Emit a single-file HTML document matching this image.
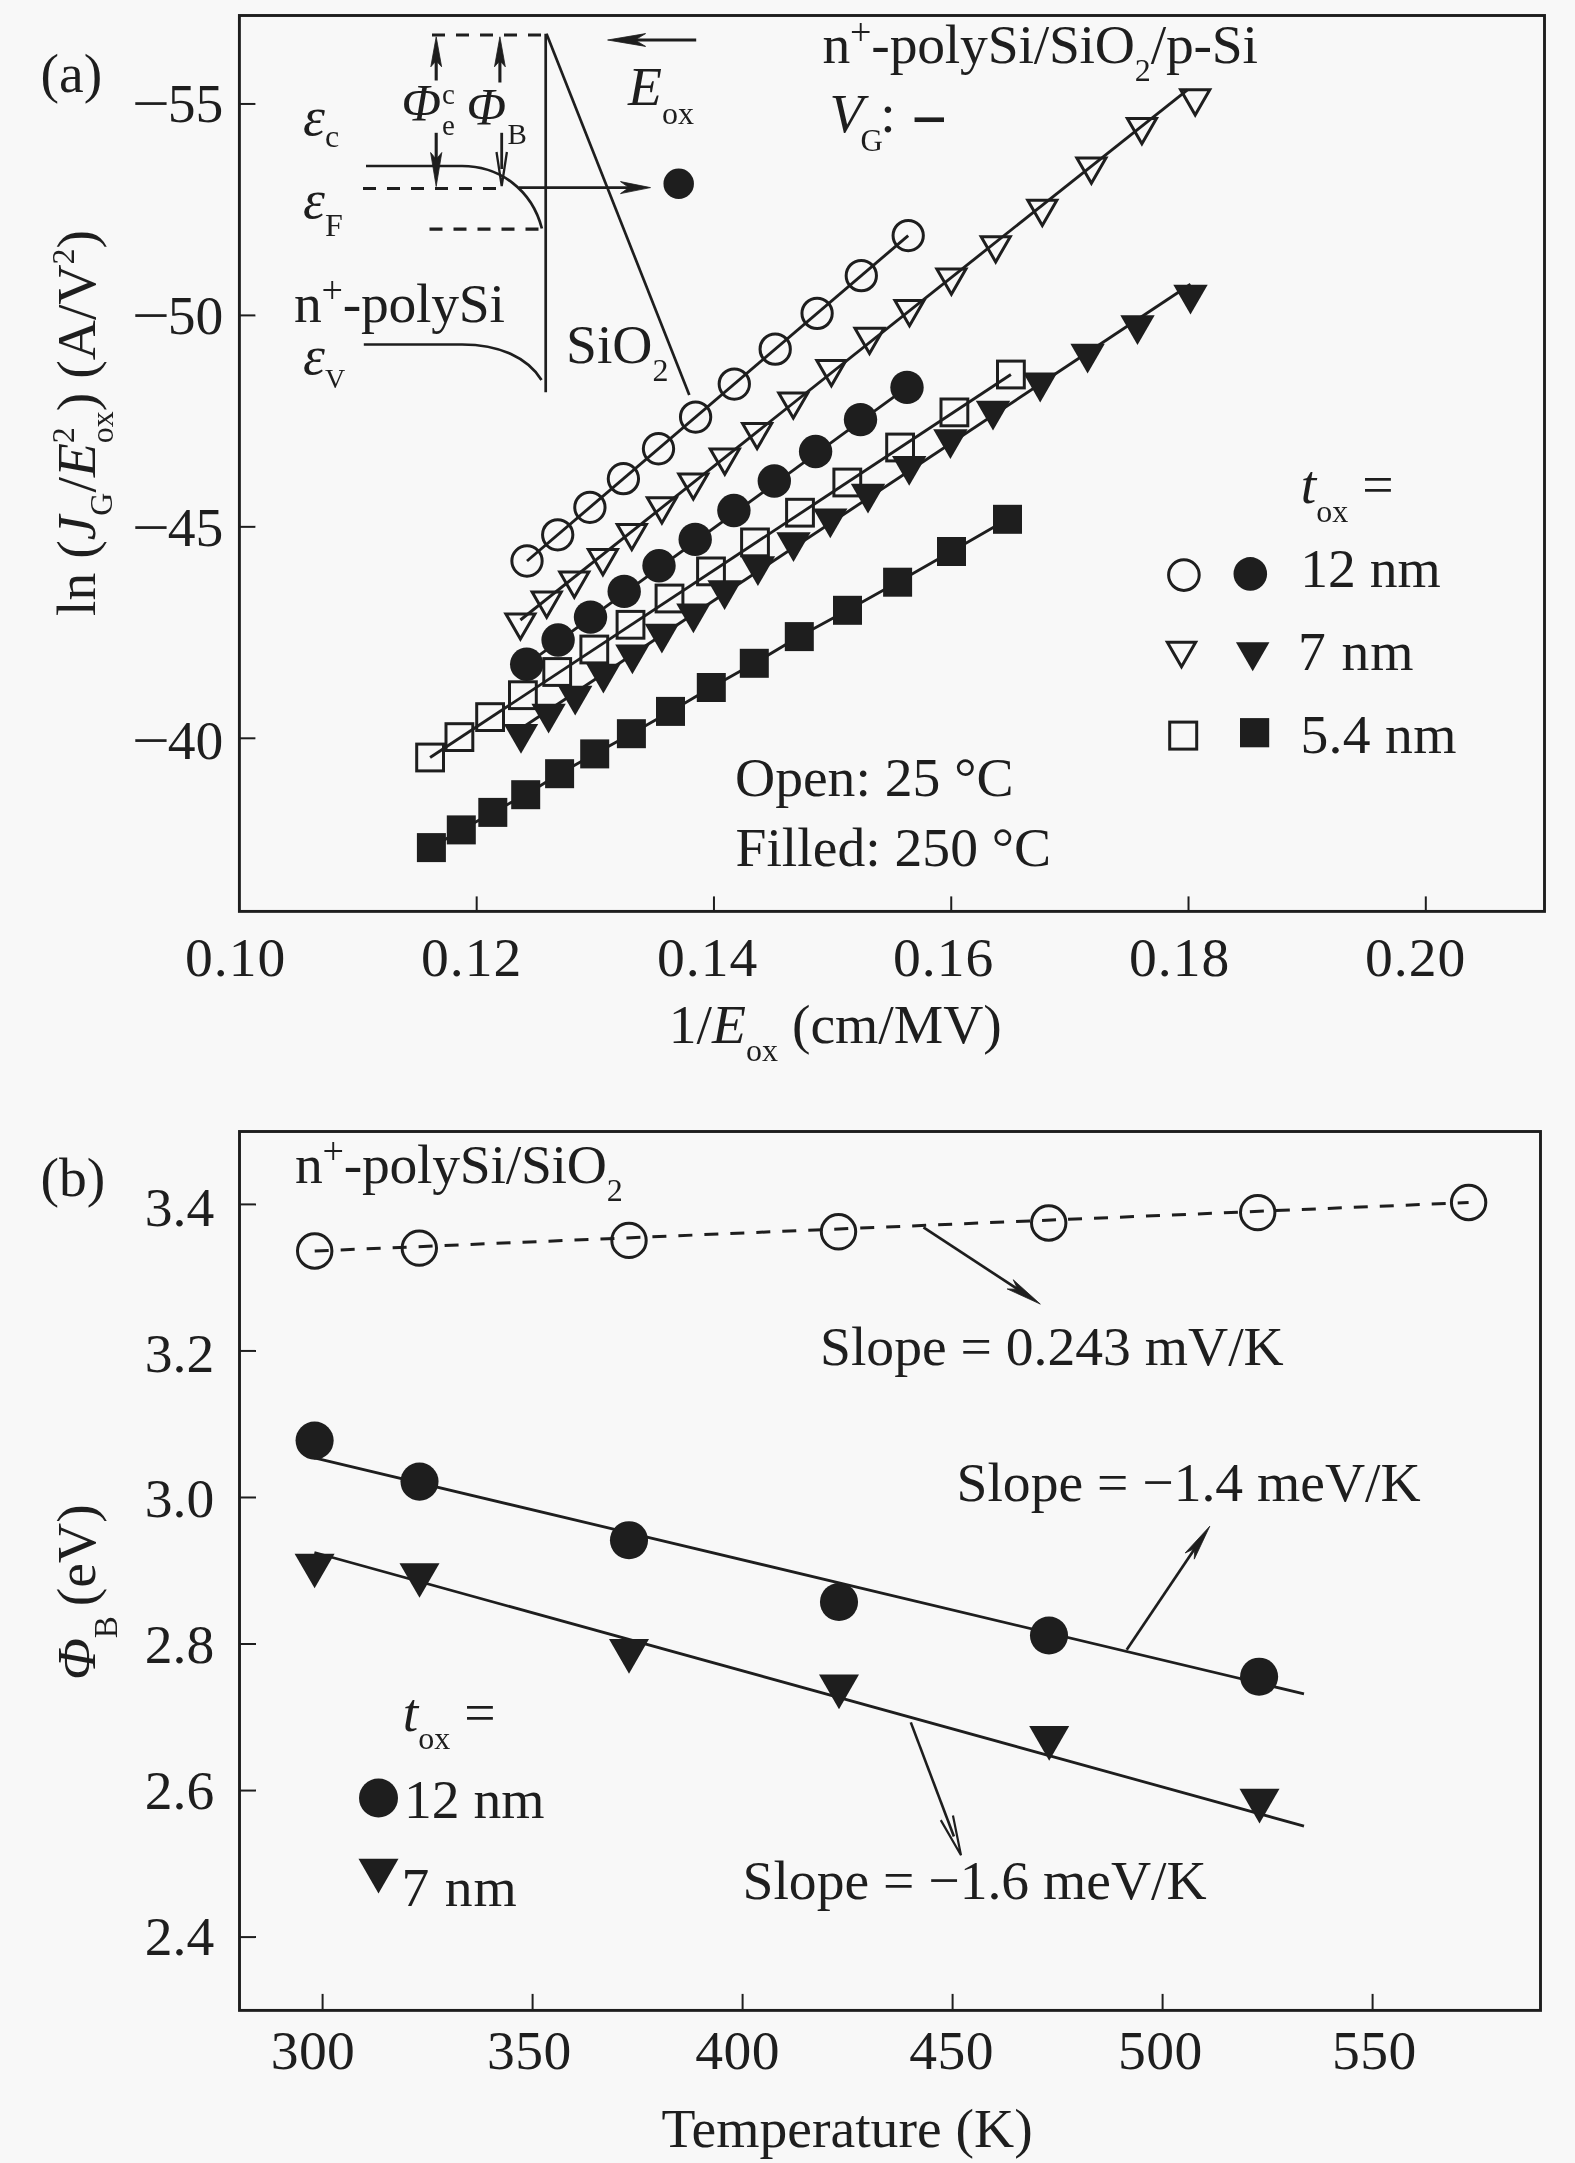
<!DOCTYPE html>
<html lang="en"><head><meta charset="utf-8"><title>Figure</title>
<style>
html,body{margin:0;padding:0;background:#f8f8f8;}
svg{display:block;will-change:transform;font-family:"Liberation Serif","Times New Roman",serif;fill:#1e1e1e;}
</style></head><body>
<svg width="1575" height="2163" viewBox="0 0 1575 2163">
<rect x="0" y="0" width="1575" height="2163" fill="#f8f8f8"/>
<rect x="239.4" y="15.5" width="1305.1" height="895.9" fill="none" stroke="#1e1e1e" stroke-width="2.9"/>
<line x1="239.4" y1="103.95" x2="255.4" y2="103.95" stroke="#1e1e1e" stroke-width="2.0" stroke-linecap="butt"/>
<text y="121.6" font-size="55.6"><tspan x="131.8" textLength="37.94" lengthAdjust="spacingAndGlyphs">−</tspan><tspan x="167.8">55</tspan></text>
<line x1="239.4" y1="315.4" x2="255.4" y2="315.4" stroke="#1e1e1e" stroke-width="2.0" stroke-linecap="butt"/>
<text y="333.9" font-size="55.6"><tspan x="131.8" textLength="37.94" lengthAdjust="spacingAndGlyphs">−</tspan><tspan x="167.8">50</tspan></text>
<line x1="239.4" y1="526.85" x2="255.4" y2="526.85" stroke="#1e1e1e" stroke-width="2.0" stroke-linecap="butt"/>
<text y="546.2" font-size="55.6"><tspan x="131.8" textLength="37.94" lengthAdjust="spacingAndGlyphs">−</tspan><tspan x="167.8">45</tspan></text>
<line x1="239.4" y1="738.3" x2="255.4" y2="738.3" stroke="#1e1e1e" stroke-width="2.0" stroke-linecap="butt"/>
<text y="758.5" font-size="55.6"><tspan x="131.8" textLength="37.94" lengthAdjust="spacingAndGlyphs">−</tspan><tspan x="167.8">40</tspan></text>
<text x="235.6" y="976.2" font-size="55.6" text-anchor="middle" letter-spacing="1.0">0.10</text>
<line x1="476.68" y1="911.4" x2="476.68" y2="896.4" stroke="#1e1e1e" stroke-width="2.0" stroke-linecap="butt"/>
<text x="471.6" y="976.2" font-size="55.6" text-anchor="middle" letter-spacing="1.0">0.12</text>
<line x1="713.96" y1="911.4" x2="713.96" y2="896.4" stroke="#1e1e1e" stroke-width="2.0" stroke-linecap="butt"/>
<text x="707.6" y="976.2" font-size="55.6" text-anchor="middle" letter-spacing="1.0">0.14</text>
<line x1="951.24" y1="911.4" x2="951.24" y2="896.4" stroke="#1e1e1e" stroke-width="2.0" stroke-linecap="butt"/>
<text x="943.6" y="976.2" font-size="55.6" text-anchor="middle" letter-spacing="1.0">0.16</text>
<line x1="1188.52" y1="911.4" x2="1188.52" y2="896.4" stroke="#1e1e1e" stroke-width="2.0" stroke-linecap="butt"/>
<text x="1179.6" y="976.2" font-size="55.6" text-anchor="middle" letter-spacing="1.0">0.18</text>
<line x1="1425.8" y1="911.4" x2="1425.8" y2="896.4" stroke="#1e1e1e" stroke-width="2.0" stroke-linecap="butt"/>
<text x="1415.6" y="976.2" font-size="55.6" text-anchor="middle" letter-spacing="1.0">0.20</text>
<text x="668.8" y="1042.5" font-size="55.6" text-anchor="start"><tspan>1/</tspan><tspan font-style="italic">E</tspan><tspan font-size="32" dy="18">ox</tspan><tspan dy="-18" font-size="1">&#8203;</tspan><tspan> (cm/MV)</tspan></text>
<text x="94.5" y="616" font-size="55.6" text-anchor="start" transform="rotate(-90 94.5 616)"><tspan>ln (</tspan><tspan font-style="italic">J</tspan><tspan font-size="32" dy="17">G</tspan><tspan dy="-17" font-size="1">&#8203;</tspan><tspan>/</tspan><tspan font-style="italic">E</tspan><tspan font-size="32" dy="-21">2</tspan><tspan dy="21" font-size="1">&#8203;</tspan><tspan font-size="32" dy="18" dx="-16">ox</tspan><tspan dy="-18" font-size="1">&#8203;</tspan><tspan>) (A/V</tspan><tspan font-size="32" dy="-21">2</tspan><tspan dy="21" font-size="1">&#8203;</tspan><tspan>)</tspan></text>
<text x="40.5" y="91.8" font-size="55.6" text-anchor="start">(a)</text>
<polyline points="527,561 908.2,235.6" fill="none" stroke="#1e1e1e" stroke-width="2.9" stroke-linejoin="round"/>
<polyline points="520.4,620 1187.5,89.8" fill="none" stroke="#1e1e1e" stroke-width="2.9" stroke-linejoin="round"/>
<polyline points="430.1,757.5 1010.9,374.5" fill="none" stroke="#1e1e1e" stroke-width="2.9" stroke-linejoin="round"/>
<polyline points="526.7,664.3 907,387.4" fill="none" stroke="#1e1e1e" stroke-width="2.9" stroke-linejoin="round"/>
<polyline points="521,728.5 1190.5,284.3" fill="none" stroke="#1e1e1e" stroke-width="2.9" stroke-linejoin="round"/>
<polyline points="431.4,847.6 461.3,829.9 492.8,812.4 525.7,794.7 559.6,773.7 594.7,753.9 631.4,733.7 670.5,711.4 711.3,687.5 754.3,663.3 799.3,636.6 847.5,610.3 897.6,582.2 951.5,551.5 1007.5,519.3" fill="none" stroke="#1e1e1e" stroke-width="2.9" stroke-linejoin="round"/>
<circle cx="527" cy="561" r="15.15" fill="none" stroke="#1e1e1e" stroke-width="3.0"/>
<circle cx="557.7" cy="534.79" r="15.15" fill="none" stroke="#1e1e1e" stroke-width="3.0"/>
<circle cx="589.9" cy="507.31" r="15.15" fill="none" stroke="#1e1e1e" stroke-width="3.0"/>
<circle cx="623.4" cy="478.71" r="15.15" fill="none" stroke="#1e1e1e" stroke-width="3.0"/>
<circle cx="658.5" cy="448.75" r="15.15" fill="none" stroke="#1e1e1e" stroke-width="3.0"/>
<circle cx="695.6" cy="417.08" r="15.15" fill="none" stroke="#1e1e1e" stroke-width="3.0"/>
<circle cx="734.3" cy="384.04" r="15.15" fill="none" stroke="#1e1e1e" stroke-width="3.0"/>
<circle cx="775.2" cy="349.13" r="15.15" fill="none" stroke="#1e1e1e" stroke-width="3.0"/>
<circle cx="817.1" cy="313.36" r="15.15" fill="none" stroke="#1e1e1e" stroke-width="3.0"/>
<circle cx="861.3" cy="275.63" r="15.15" fill="none" stroke="#1e1e1e" stroke-width="3.0"/>
<circle cx="908.2" cy="235.6" r="15.15" fill="none" stroke="#1e1e1e" stroke-width="3.0"/>
<polygon points="505.85,613.9 534.95,613.9 520.4,639.1" fill="none" stroke="#1e1e1e" stroke-width="3.0" stroke-linejoin="miter"/>
<polygon points="532.15,592 561.25,592 546.7,617.2" fill="none" stroke="#1e1e1e" stroke-width="3.0" stroke-linejoin="miter"/>
<polygon points="559.75,572 588.85,572 574.3,597.2" fill="none" stroke="#1e1e1e" stroke-width="3.0" stroke-linejoin="miter"/>
<polygon points="588.35,549.5 617.45,549.5 602.9,574.7" fill="none" stroke="#1e1e1e" stroke-width="3.0" stroke-linejoin="miter"/>
<polygon points="617.25,524.4 646.35,524.4 631.8,549.6" fill="none" stroke="#1e1e1e" stroke-width="3.0" stroke-linejoin="miter"/>
<polygon points="647.35,497.7 676.45,497.7 661.9,522.9" fill="none" stroke="#1e1e1e" stroke-width="3.0" stroke-linejoin="miter"/>
<polygon points="678.75,473.9 707.85,473.9 693.3,499.1" fill="none" stroke="#1e1e1e" stroke-width="3.0" stroke-linejoin="miter"/>
<polygon points="710.25,449.1 739.35,449.1 724.8,474.3" fill="none" stroke="#1e1e1e" stroke-width="3.0" stroke-linejoin="miter"/>
<polygon points="742.55,423.4 771.65,423.4 757.1,448.6" fill="none" stroke="#1e1e1e" stroke-width="3.0" stroke-linejoin="miter"/>
<polygon points="778.75,392.9 807.85,392.9 793.3,418.1" fill="none" stroke="#1e1e1e" stroke-width="3.0" stroke-linejoin="miter"/>
<polygon points="816.85,360.5 845.95,360.5 831.4,385.7" fill="none" stroke="#1e1e1e" stroke-width="3.0" stroke-linejoin="miter"/>
<polygon points="854.95,328.2 884.05,328.2 869.5,353.4" fill="none" stroke="#1e1e1e" stroke-width="3.0" stroke-linejoin="miter"/>
<polygon points="894.95,300.5 924.05,300.5 909.5,325.7" fill="none" stroke="#1e1e1e" stroke-width="3.0" stroke-linejoin="miter"/>
<polygon points="936.85,269.1 965.95,269.1 951.4,294.3" fill="none" stroke="#1e1e1e" stroke-width="3.0" stroke-linejoin="miter"/>
<polygon points="981.15,236.7 1010.25,236.7 995.7,261.9" fill="none" stroke="#1e1e1e" stroke-width="3.0" stroke-linejoin="miter"/>
<polygon points="1027.75,200.2 1056.85,200.2 1042.3,225.4" fill="none" stroke="#1e1e1e" stroke-width="3.0" stroke-linejoin="miter"/>
<polygon points="1076.85,158.1 1105.95,158.1 1091.4,183.3" fill="none" stroke="#1e1e1e" stroke-width="3.0" stroke-linejoin="miter"/>
<polygon points="1127.35,118.6 1156.45,118.6 1141.9,143.8" fill="none" stroke="#1e1e1e" stroke-width="3.0" stroke-linejoin="miter"/>
<polygon points="1180.65,89.7 1209.75,89.7 1195.2,114.9" fill="none" stroke="#1e1e1e" stroke-width="3.0" stroke-linejoin="miter"/>
<rect x="416.7" y="744.1" width="26.8" height="26.8" fill="none" stroke="#1e1e1e" stroke-width="3.0"/>
<rect x="446" y="723.7" width="26.8" height="26.8" fill="none" stroke="#1e1e1e" stroke-width="3.0"/>
<rect x="476.7" y="703.7" width="26.8" height="26.8" fill="none" stroke="#1e1e1e" stroke-width="3.0"/>
<rect x="509.5" y="681.8" width="26.8" height="26.8" fill="none" stroke="#1e1e1e" stroke-width="3.0"/>
<rect x="543.8" y="658.6" width="26.8" height="26.8" fill="none" stroke="#1e1e1e" stroke-width="3.0"/>
<rect x="580.9" y="636.1" width="26.8" height="26.8" fill="none" stroke="#1e1e1e" stroke-width="3.0"/>
<rect x="617.1" y="611.4" width="26.8" height="26.8" fill="none" stroke="#1e1e1e" stroke-width="3.0"/>
<rect x="656.1" y="585.1" width="26.8" height="26.8" fill="none" stroke="#1e1e1e" stroke-width="3.0"/>
<rect x="697.6" y="558" width="26.8" height="26.8" fill="none" stroke="#1e1e1e" stroke-width="3.0"/>
<rect x="741.6" y="529" width="26.8" height="26.8" fill="none" stroke="#1e1e1e" stroke-width="3.0"/>
<rect x="786.6" y="499.3" width="26.8" height="26.8" fill="none" stroke="#1e1e1e" stroke-width="3.0"/>
<rect x="833.9" y="469.1" width="26.8" height="26.8" fill="none" stroke="#1e1e1e" stroke-width="3.0"/>
<rect x="886.7" y="434.1" width="26.8" height="26.8" fill="none" stroke="#1e1e1e" stroke-width="3.0"/>
<rect x="941" y="399" width="26.8" height="26.8" fill="none" stroke="#1e1e1e" stroke-width="3.0"/>
<rect x="997.5" y="361.1" width="26.8" height="26.8" fill="none" stroke="#1e1e1e" stroke-width="3.0"/>
<circle cx="526.7" cy="664.3" r="16.7" fill="#1e1e1e"/>
<circle cx="558.1" cy="640" r="16.7" fill="#1e1e1e"/>
<circle cx="590.5" cy="617.1" r="16.7" fill="#1e1e1e"/>
<circle cx="624.2" cy="591.4" r="16.7" fill="#1e1e1e"/>
<circle cx="659" cy="565.7" r="16.7" fill="#1e1e1e"/>
<circle cx="695.2" cy="539.4" r="16.7" fill="#1e1e1e"/>
<circle cx="733.9" cy="510.5" r="16.7" fill="#1e1e1e"/>
<circle cx="774.3" cy="481" r="16.7" fill="#1e1e1e"/>
<circle cx="815.6" cy="451.5" r="16.7" fill="#1e1e1e"/>
<circle cx="860.5" cy="419.6" r="16.7" fill="#1e1e1e"/>
<circle cx="907" cy="387.4" r="16.7" fill="#1e1e1e"/>
<polygon points="503.8,724 538.2,724 521,753.79" fill="#1e1e1e"/>
<polygon points="531.4,703.8 565.8,703.8 548.6,733.59" fill="#1e1e1e"/>
<polygon points="558,685.7 592.4,685.7 575.2,715.49" fill="#1e1e1e"/>
<polygon points="586.2,663.8 620.6,663.8 603.4,693.59" fill="#1e1e1e"/>
<polygon points="615.2,644.5 649.6,644.5 632.4,674.29" fill="#1e1e1e"/>
<polygon points="644.7,623.8 679.1,623.8 661.9,653.59" fill="#1e1e1e"/>
<polygon points="676.2,603.5 710.6,603.5 693.4,633.29" fill="#1e1e1e"/>
<polygon points="707.4,580.3 741.8,580.3 724.6,610.09" fill="#1e1e1e"/>
<polygon points="740.7,556.3 775.1,556.3 757.9,586.09" fill="#1e1e1e"/>
<polygon points="776.3,532.2 810.7,532.2 793.5,561.99" fill="#1e1e1e"/>
<polygon points="813.1,508.5 847.5,508.5 830.3,538.29" fill="#1e1e1e"/>
<polygon points="850.8,483.8 885.2,483.8 868,513.59" fill="#1e1e1e"/>
<polygon points="892,455.9 926.4,455.9 909.2,485.69" fill="#1e1e1e"/>
<polygon points="933.2,429.2 967.6,429.2 950.4,458.99" fill="#1e1e1e"/>
<polygon points="975.8,400.8 1010.2,400.8 993,430.59" fill="#1e1e1e"/>
<polygon points="1023,372.6 1057.4,372.6 1040.2,402.39" fill="#1e1e1e"/>
<polygon points="1070.4,343.8 1104.8,343.8 1087.6,373.59" fill="#1e1e1e"/>
<polygon points="1120.3,315.2 1154.7,315.2 1137.5,344.99" fill="#1e1e1e"/>
<polygon points="1173.3,284.8 1207.7,284.8 1190.5,314.59" fill="#1e1e1e"/>
<rect x="416.9" y="833.1" width="29" height="29" fill="#1e1e1e"/>
<rect x="446.8" y="815.4" width="29" height="29" fill="#1e1e1e"/>
<rect x="478.3" y="797.9" width="29" height="29" fill="#1e1e1e"/>
<rect x="511.2" y="780.2" width="29" height="29" fill="#1e1e1e"/>
<rect x="545.1" y="759.2" width="29" height="29" fill="#1e1e1e"/>
<rect x="580.2" y="739.4" width="29" height="29" fill="#1e1e1e"/>
<rect x="616.9" y="719.2" width="29" height="29" fill="#1e1e1e"/>
<rect x="656" y="696.9" width="29" height="29" fill="#1e1e1e"/>
<rect x="696.8" y="673" width="29" height="29" fill="#1e1e1e"/>
<rect x="739.8" y="648.8" width="29" height="29" fill="#1e1e1e"/>
<rect x="784.8" y="622.1" width="29" height="29" fill="#1e1e1e"/>
<rect x="833" y="595.8" width="29" height="29" fill="#1e1e1e"/>
<rect x="883.1" y="567.7" width="29" height="29" fill="#1e1e1e"/>
<rect x="937" y="537" width="29" height="29" fill="#1e1e1e"/>
<rect x="993" y="504.8" width="29" height="29" fill="#1e1e1e"/>
<text x="822.5" y="63.3" font-size="55.6" text-anchor="start" letter-spacing="-0.2"><tspan>n</tspan><tspan font-size="38" dy="-18.5">+</tspan><tspan dy="18.5" font-size="1">&#8203;</tspan><tspan>-polySi/SiO</tspan><tspan font-size="32" dy="18">2</tspan><tspan dy="-18" font-size="1">&#8203;</tspan><tspan>/p-Si</tspan></text>
<text x="829.5" y="131.5" font-size="55.6" text-anchor="start"><tspan font-style="italic">V</tspan><tspan font-size="31" dy="19" dx="-3">G</tspan><tspan dy="-19" font-size="1">&#8203;</tspan><tspan dx="-2.5">:</tspan></text>
<text transform="translate(911.1,141.5) scale(1.14,1.2)" font-size="55.6" font-weight="bold">−</text>
<text x="735" y="796.4" font-size="55.6" text-anchor="start">Open: 25 °C</text>
<text x="735.5" y="866.2" font-size="55.6" text-anchor="start">Filled: 250 °C</text>
<text x="1300.8" y="503.4" font-size="55.6" text-anchor="start"><tspan font-style="italic">t</tspan><tspan font-size="32" dy="18.5">ox</tspan><tspan dy="-18.5" font-size="1">&#8203;</tspan><tspan> =</tspan></text>
<circle cx="1183.9" cy="575.1" r="15.3" fill="none" stroke="#1e1e1e" stroke-width="3.0"/>
<circle cx="1250.3" cy="573.9" r="16.8" fill="#1e1e1e"/>
<text x="1300.2" y="586.6" font-size="55.6" text-anchor="start">12 nm</text>
<polygon points="1167.35,642.13 1195.65,642.13 1181.5,666.64" fill="none" stroke="#1e1e1e" stroke-width="3.0" stroke-linejoin="miter"/>
<polygon points="1235.95,642.13 1269.45,642.13 1252.7,671.14" fill="#1e1e1e"/>
<text x="1298" y="669.7" font-size="55.6" text-anchor="start" letter-spacing="0.9">7 nm</text>
<rect x="1169.7" y="722.1" width="27" height="27" fill="none" stroke="#1e1e1e" stroke-width="3.0"/>
<rect x="1240" y="718.1" width="29.2" height="29.2" fill="#1e1e1e"/>
<text x="1300.5" y="752.7" font-size="55.6" text-anchor="start" letter-spacing="0.3">5.4 nm</text>
<line x1="432" y1="35" x2="545.7" y2="35" stroke="#1e1e1e" stroke-width="3.2" stroke-linecap="butt" stroke-dasharray="13 11"/>
<line x1="545.7" y1="33.7" x2="545.7" y2="392.3" stroke="#1e1e1e" stroke-width="2.7" stroke-linecap="butt"/>
<line x1="546.5" y1="33.7" x2="689.3" y2="395" stroke="#1e1e1e" stroke-width="2.7" stroke-linecap="butt"/>
<path d="M366,166 L462,166 C500,166 532,190 541.9,228.5" fill="none" stroke="#1e1e1e" stroke-width="2.7" stroke-linejoin="miter"/>
<line x1="363" y1="188.5" x2="498" y2="188.5" stroke="#1e1e1e" stroke-width="3.2" stroke-linecap="butt" stroke-dasharray="13 11"/>
<line x1="429.5" y1="229.1" x2="542" y2="229.1" stroke="#1e1e1e" stroke-width="3.2" stroke-linecap="butt" stroke-dasharray="13 11"/>
<path d="M363.8,344.5 L462,344.5 C500,344.5 528,358 541.5,380" fill="none" stroke="#1e1e1e" stroke-width="2.7" stroke-linejoin="miter"/>
<line x1="436.2" y1="80.5" x2="436.2" y2="51.8" stroke="#1e1e1e" stroke-width="3.1" stroke-linecap="butt"/>
<polygon points="436.2,36.8 441.6,66.8 436.2,60.8 430.8,66.8" fill="#1e1e1e" stroke="#1e1e1e" stroke-width="0.8" stroke-linejoin="miter"/>
<line x1="499.9" y1="82.5" x2="499.9" y2="51.8" stroke="#1e1e1e" stroke-width="3.1" stroke-linecap="butt"/>
<polygon points="499.9,36.8 505.3,66.8 499.9,60.8 494.5,66.8" fill="#1e1e1e" stroke="#1e1e1e" stroke-width="0.8" stroke-linejoin="miter"/>
<line x1="436.2" y1="132.8" x2="436.2" y2="169.5" stroke="#1e1e1e" stroke-width="3.1" stroke-linecap="butt"/>
<polygon points="436.2,186.5 430.6,152.5 436.2,159.3 441.8,152.5" fill="#1e1e1e" stroke="#1e1e1e" stroke-width="0.8" stroke-linejoin="miter"/>
<line x1="501.7" y1="132.8" x2="501.7" y2="169" stroke="#1e1e1e" stroke-width="2.8" stroke-linecap="butt"/>
<polyline points="496.5,152 501.7,186 506.9,152" fill="none" stroke="#1e1e1e" stroke-width="2.3" stroke-linejoin="miter"/>
<line x1="696.2" y1="40" x2="626.6" y2="40" stroke="#1e1e1e" stroke-width="2.8" stroke-linecap="butt"/>
<polygon points="607.6,40 645.6,33.6 634.96,40 645.6,46.4" fill="#1e1e1e" stroke="#1e1e1e" stroke-width="0.8" stroke-linejoin="miter"/>
<line x1="519" y1="187.6" x2="635.5" y2="187.6" stroke="#1e1e1e" stroke-width="2.6" stroke-linecap="butt"/>
<polygon points="650.5,187.6 620.5,193.6 628.9,187.6 620.5,181.6" fill="#1e1e1e" stroke="#1e1e1e" stroke-width="0.8" stroke-linejoin="miter"/>
<circle cx="678.7" cy="183.8" r="15.25" fill="#1e1e1e"/>
<text x="628" y="104.8" font-size="55.6" text-anchor="start"><tspan font-style="italic">E</tspan><tspan font-size="32" dy="19">ox</tspan><tspan dy="-19" font-size="1">&#8203;</tspan></text>
<text x="401.5" y="121.3" font-size="55.6" text-anchor="start"><tspan font-style="italic" font-size="52">Φ</tspan></text>
<text x="442" y="103.8" font-size="29" text-anchor="start">c</text>
<text x="442" y="135.3" font-size="29" text-anchor="start">e</text>
<text x="466.5" y="125" font-size="55.6" text-anchor="start"><tspan font-style="italic" font-size="52">Φ</tspan></text>
<text x="507.5" y="143.8" font-size="29" text-anchor="start">B</text>
<text x="303" y="135" font-size="55.6" text-anchor="start"><tspan font-style="italic">ε</tspan><tspan font-size="32" dy="11.5">c</tspan><tspan dy="-11.5" font-size="1">&#8203;</tspan></text>
<text x="303" y="217.7" font-size="55.6" text-anchor="start"><tspan font-style="italic">ε</tspan><tspan font-size="32" dy="18">F</tspan><tspan dy="-18" font-size="1">&#8203;</tspan></text>
<text x="303" y="374.1" font-size="55.6" text-anchor="start"><tspan font-style="italic">ε</tspan><tspan font-size="28" dy="14">V</tspan><tspan dy="-14" font-size="1">&#8203;</tspan></text>
<text x="294" y="321.9" font-size="55.6" text-anchor="start" letter-spacing="-0.25"><tspan>n</tspan><tspan font-size="38" dy="-18.5">+</tspan><tspan dy="18.5" font-size="1">&#8203;</tspan><tspan>-polySi</tspan></text>
<text x="566" y="363" font-size="55.6" text-anchor="start"><tspan>SiO</tspan><tspan font-size="32" dy="18">2</tspan><tspan dy="-18" font-size="1">&#8203;</tspan></text>
<rect x="239.5" y="1131.5" width="1301" height="878.9" fill="none" stroke="#1e1e1e" stroke-width="2.9"/>
<line x1="239.5" y1="1204.4" x2="256" y2="1204.4" stroke="#1e1e1e" stroke-width="2.0" stroke-linecap="butt"/>
<text x="214.3" y="1225.7" font-size="55.6" text-anchor="end">3.4</text>
<line x1="239.5" y1="1350.94" x2="256" y2="1350.94" stroke="#1e1e1e" stroke-width="2.0" stroke-linecap="butt"/>
<text x="214.3" y="1371.5" font-size="55.6" text-anchor="end">3.2</text>
<line x1="239.5" y1="1497.48" x2="256" y2="1497.48" stroke="#1e1e1e" stroke-width="2.0" stroke-linecap="butt"/>
<text x="214.3" y="1517.3" font-size="55.6" text-anchor="end">3.0</text>
<line x1="239.5" y1="1644.02" x2="256" y2="1644.02" stroke="#1e1e1e" stroke-width="2.0" stroke-linecap="butt"/>
<text x="214.3" y="1663.1" font-size="55.6" text-anchor="end">2.8</text>
<line x1="239.5" y1="1790.56" x2="256" y2="1790.56" stroke="#1e1e1e" stroke-width="2.0" stroke-linecap="butt"/>
<text x="214.3" y="1808.9" font-size="55.6" text-anchor="end">2.6</text>
<line x1="239.5" y1="1937.1" x2="256" y2="1937.1" stroke="#1e1e1e" stroke-width="2.0" stroke-linecap="butt"/>
<text x="214.3" y="1954.7" font-size="55.6" text-anchor="end">2.4</text>
<line x1="322.6" y1="2010.4" x2="322.6" y2="1993.9" stroke="#1e1e1e" stroke-width="2.0" stroke-linecap="butt"/>
<text x="313" y="2069.3" font-size="55.6" text-anchor="middle" letter-spacing="0.4">300</text>
<line x1="532.6" y1="2010.4" x2="532.6" y2="1993.9" stroke="#1e1e1e" stroke-width="2.0" stroke-linecap="butt"/>
<text x="529.4" y="2069.3" font-size="55.6" text-anchor="middle" letter-spacing="0.4">350</text>
<line x1="742.6" y1="2010.4" x2="742.6" y2="1993.9" stroke="#1e1e1e" stroke-width="2.0" stroke-linecap="butt"/>
<text x="737.6" y="2069.3" font-size="55.6" text-anchor="middle" letter-spacing="0.4">400</text>
<line x1="952.6" y1="2010.4" x2="952.6" y2="1993.9" stroke="#1e1e1e" stroke-width="2.0" stroke-linecap="butt"/>
<text x="951.6" y="2069.3" font-size="55.6" text-anchor="middle" letter-spacing="0.4">450</text>
<line x1="1162.6" y1="2010.4" x2="1162.6" y2="1993.9" stroke="#1e1e1e" stroke-width="2.0" stroke-linecap="butt"/>
<text x="1160.3" y="2069.3" font-size="55.6" text-anchor="middle" letter-spacing="0.4">500</text>
<line x1="1372.6" y1="2010.4" x2="1372.6" y2="1993.9" stroke="#1e1e1e" stroke-width="2.0" stroke-linecap="butt"/>
<text x="1374.3" y="2069.3" font-size="55.6" text-anchor="middle" letter-spacing="0.4">550</text>
<text x="661.5" y="2146.7" font-size="55.6" text-anchor="start">Temperature (K)</text>
<text x="95" y="1680" font-size="55.6" text-anchor="start" transform="rotate(-90 95 1680)"><tspan font-style="italic" font-size="55">Φ</tspan><tspan font-size="33" dy="22">B</tspan><tspan dy="-22" font-size="1">&#8203;</tspan><tspan dx="-4"> (eV)</tspan></text>
<text x="40.5" y="1196" font-size="55.6" text-anchor="start">(b)</text>
<polyline points="314.7,1251 1468.6,1202.5" fill="none" stroke="#1e1e1e" stroke-width="3.0" stroke-linejoin="round" stroke-dasharray="14 12"/>
<polyline points="314.4,1457.8 1304,1693.8" fill="none" stroke="#1e1e1e" stroke-width="2.8" stroke-linejoin="round"/>
<polyline points="314.4,1552.5 1304,1826.1" fill="none" stroke="#1e1e1e" stroke-width="2.8" stroke-linejoin="round"/>
<circle cx="314.7" cy="1251" r="17.2" fill="none" stroke="#1e1e1e" stroke-width="3.0"/>
<circle cx="419.3" cy="1248.1" r="17.2" fill="none" stroke="#1e1e1e" stroke-width="3.0"/>
<circle cx="629" cy="1240.4" r="17.2" fill="none" stroke="#1e1e1e" stroke-width="3.0"/>
<circle cx="838.5" cy="1231.8" r="17.2" fill="none" stroke="#1e1e1e" stroke-width="3.0"/>
<circle cx="1048.7" cy="1223" r="17.2" fill="none" stroke="#1e1e1e" stroke-width="3.0"/>
<circle cx="1257.7" cy="1212.6" r="17.2" fill="none" stroke="#1e1e1e" stroke-width="3.0"/>
<circle cx="1468.6" cy="1202.5" r="17.2" fill="none" stroke="#1e1e1e" stroke-width="3.0"/>
<circle cx="314.6" cy="1440.6" r="19.05" fill="#1e1e1e"/>
<circle cx="419.5" cy="1481.6" r="19.05" fill="#1e1e1e"/>
<circle cx="629" cy="1540.2" r="19.05" fill="#1e1e1e"/>
<circle cx="839" cy="1602" r="19.05" fill="#1e1e1e"/>
<circle cx="1049" cy="1635.5" r="19.05" fill="#1e1e1e"/>
<circle cx="1259.1" cy="1676.7" r="19.05" fill="#1e1e1e"/>
<polygon points="294.6,1553.7 334.6,1553.7 314.6,1588.34" fill="#1e1e1e"/>
<polygon points="399.5,1563.2 439.5,1563.2 419.5,1597.84" fill="#1e1e1e"/>
<polygon points="609,1639.1 649,1639.1 629,1673.74" fill="#1e1e1e"/>
<polygon points="819,1674.5 859,1674.5 839,1709.14" fill="#1e1e1e"/>
<polygon points="1029.2,1726 1069.2,1726 1049.2,1760.64" fill="#1e1e1e"/>
<polygon points="1239.5,1788.8 1279.5,1788.8 1259.5,1823.44" fill="#1e1e1e"/>
<line x1="923.5" y1="1227.3" x2="1025.26" y2="1294.21" stroke="#1e1e1e" stroke-width="2.7" stroke-linecap="butt"/>
<polygon points="1040.3,1304.1 1007.2,1288.92 1017.74,1289.27 1013.24,1279.73" fill="#1e1e1e" stroke="#1e1e1e" stroke-width="0.8" stroke-linejoin="miter"/>
<line x1="1126.7" y1="1649.7" x2="1199.75" y2="1541.13" stroke="#1e1e1e" stroke-width="2.7" stroke-linecap="butt"/>
<polygon points="1209.8,1526.2 1194.27,1559.14 1194.73,1548.6 1185.14,1553" fill="#1e1e1e" stroke="#1e1e1e" stroke-width="0.8" stroke-linejoin="miter"/>
<line x1="910.8" y1="1722.4" x2="953.93" y2="1836.49" stroke="#1e1e1e" stroke-width="2.6" stroke-linecap="butt"/>
<polyline points="940.78,1820.08 961,1855.2 952.94,1815.49" fill="none" stroke="#1e1e1e" stroke-width="2.2" stroke-linejoin="miter"/>
<text x="295" y="1182.7" font-size="55.6" text-anchor="start" letter-spacing="-0.25"><tspan>n</tspan><tspan font-size="38" dy="-18.5">+</tspan><tspan dy="18.5" font-size="1">&#8203;</tspan><tspan>-polySi/SiO</tspan><tspan font-size="32" dy="18">2</tspan><tspan dy="-18" font-size="1">&#8203;</tspan></text>
<text x="820" y="1365" font-size="55.6" text-anchor="start">Slope = 0.243 mV/K</text>
<text x="956.5" y="1500.5" font-size="55.6" text-anchor="start">Slope = −1.4 meV/K</text>
<text x="742.5" y="1899" font-size="55.6" text-anchor="start">Slope = −1.6 meV/K</text>
<text x="402.8" y="1730.5" font-size="55.6" text-anchor="start"><tspan font-style="italic">t</tspan><tspan font-size="32" dy="18.5">ox</tspan><tspan dy="-18.5" font-size="1">&#8203;</tspan><tspan> =</tspan></text>
<circle cx="378.5" cy="1798" r="19.5" fill="#1e1e1e"/>
<text x="404" y="1817.8" font-size="55.6" text-anchor="start">12 nm</text>
<polygon points="358.5,1858.8 398.5,1858.8 378.5,1893.44" fill="#1e1e1e"/>
<text x="401.5" y="1905.8" font-size="55.6" text-anchor="start" letter-spacing="0.8">7 nm</text>
</svg></body></html>
